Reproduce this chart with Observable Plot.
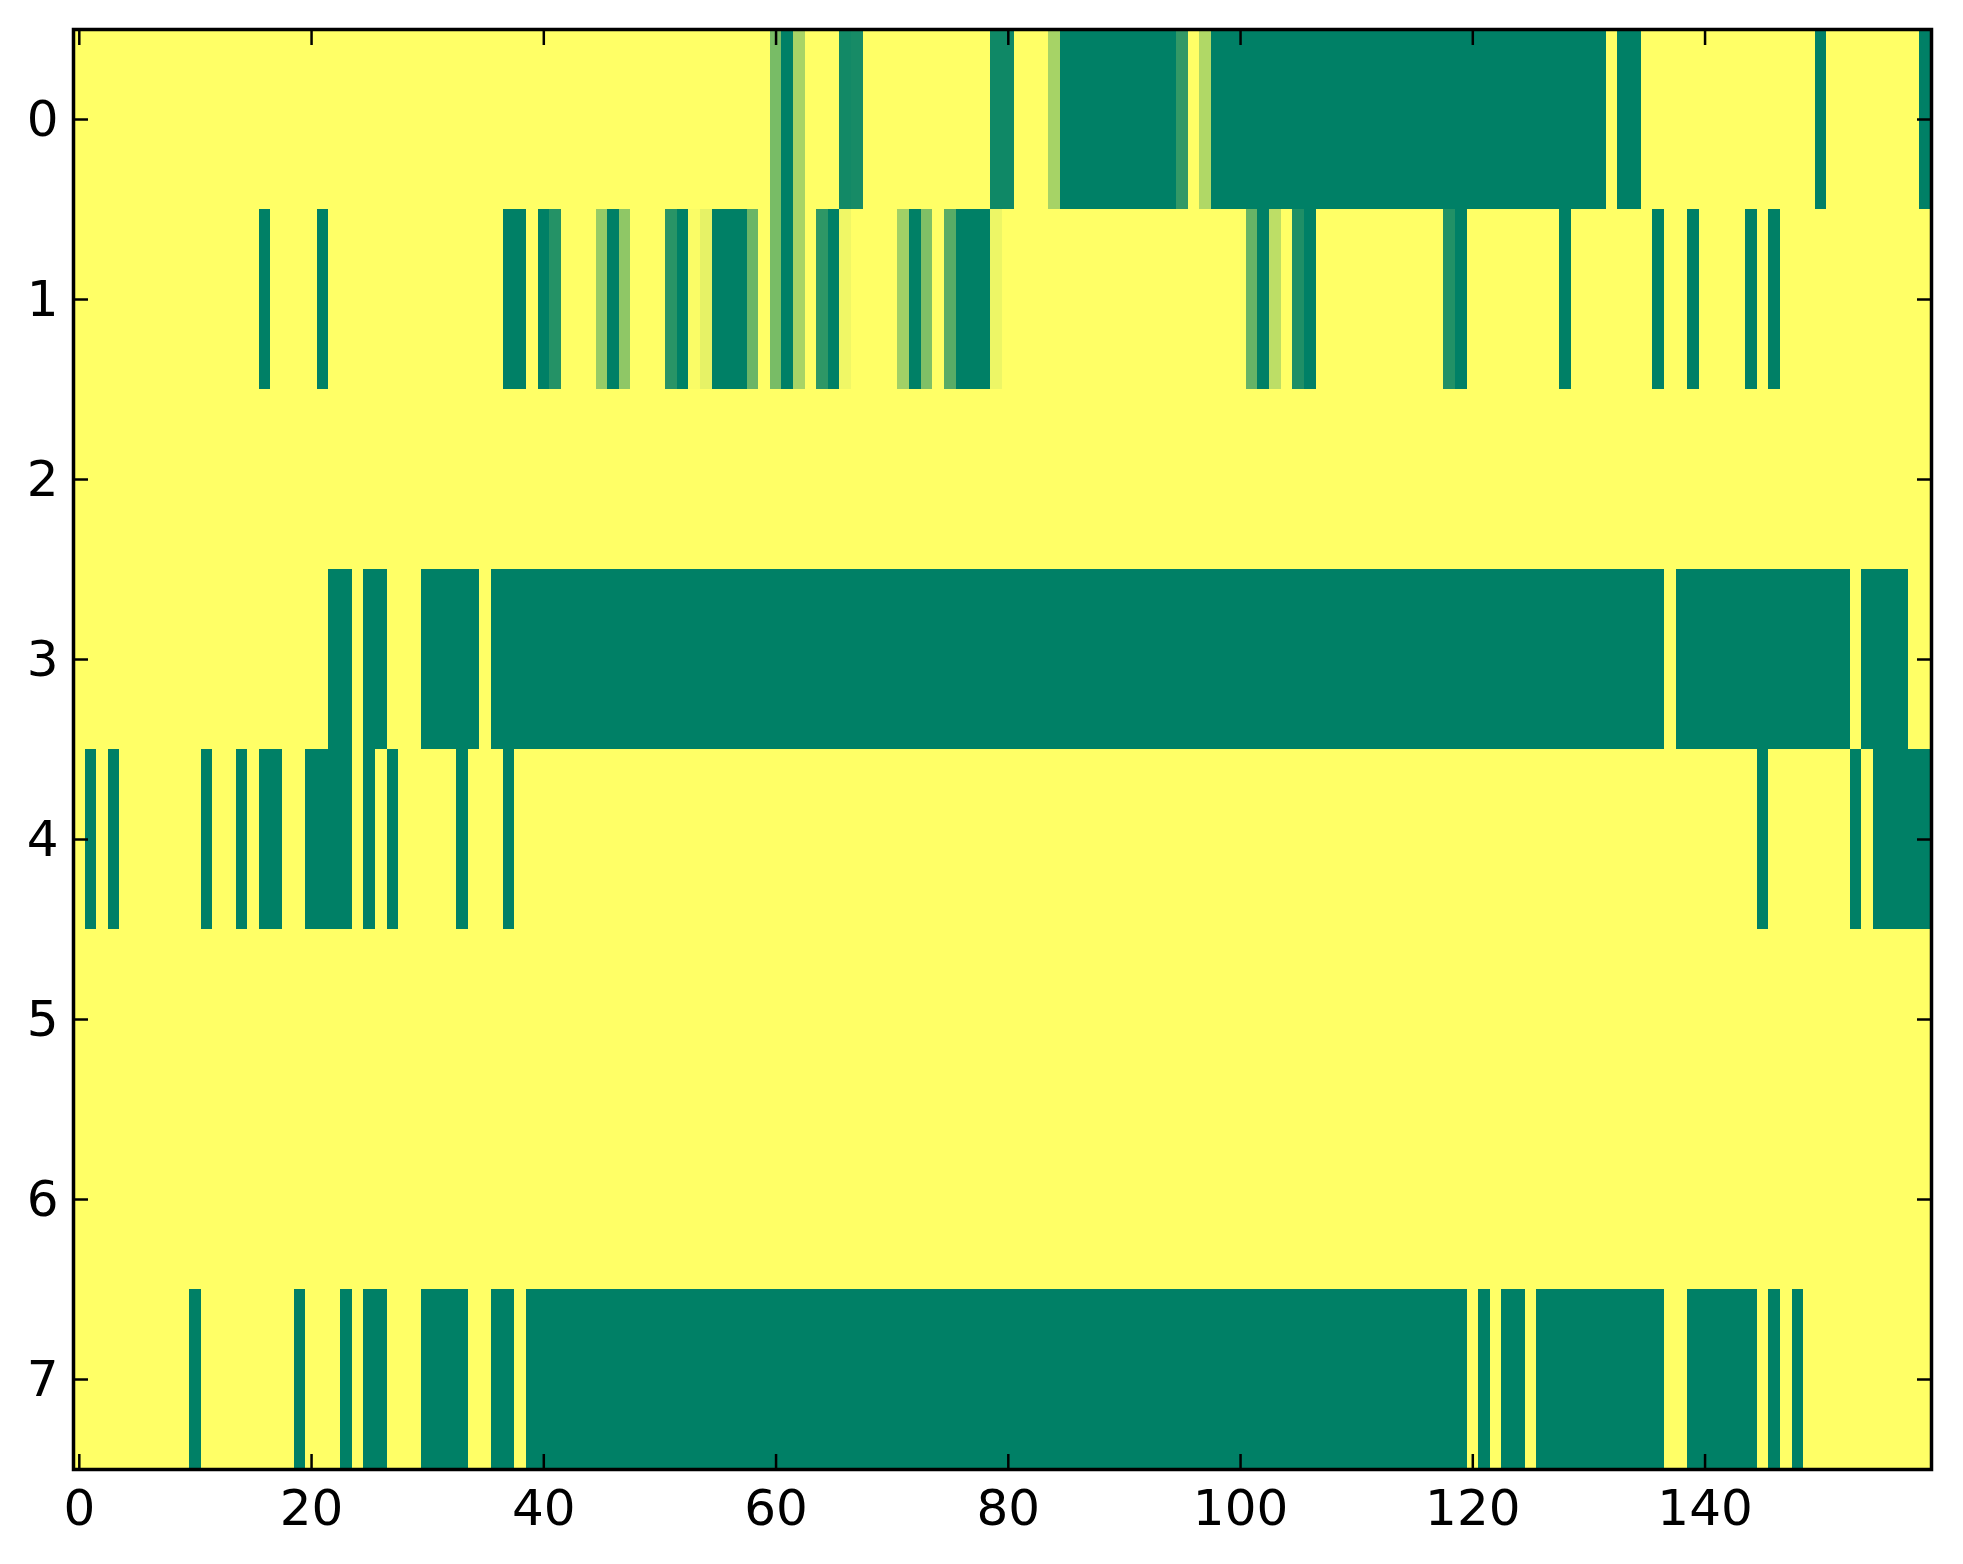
<!DOCTYPE html>
<html>
<head>
<meta charset="utf-8">
<script src="https://cdn.jsdelivr.net/npm/d3@7"></script>
<script src="https://cdn.jsdelivr.net/npm/@observablehq/plot@0.6"></script>
<style>
  html, body { margin: 0; padding: 0; background: #fff; }
  #chart svg { display: block; }
</style>
</head>
<body>
<div id="chart"></div>
<script>
// Values per row (columns 0..159), colormap "summer": 0 = green, 1 = yellow
const row0 = [
  1,1,1,1,1,1,1,1,1,1,1,1,1,1,1,1,1,1,1,1,
  1,1,1,1,1,1,1,1,1,1,1,1,1,1,1,1,1,1,1,1,
  1,1,1,1,1,1,1,1,1,1,1,1,1,1,1,1,1,1,1,1,
  0.47,0,0.66,1,1,1,0.07,0.09,1,1,1,1,1,1,1,1,1,1,1,0.06,
  0.06,1,1,1,0.65,0,0,0,0,0,0,0,0,0,0,0.2,1,0.69,0,0,
  0,0,0,0,0,0,0,0,0,0,0,0,0,0,0,0,0,0,0,0,
  0,0,0,0,0,0,0,0,0,0,0,0,1,0,0,1,1,1,1,1,
  1,1,1,1,1,1,1,1,1,1,0,1,1,1,1,1,1,1,1,0
];
const row1 = [
  1,1,1,1,1,1,1,1,1,1,1,1,1,1,1,1,0,1,1,1,
  1,0,1,1,1,1,1,1,1,1,1,1,1,1,1,1,1,0,0,1,
  0,0.14,1,1,1,0.59,0,0.56,1,1,1,0.16,0,0.98,0.9,0,0,0,0.42,1,
  0.47,0,0.66,1,0.18,0,0.94,1,1,1,1,0.63,0,0.5,1,0.35,0,0,0,0.93,
  1,1,1,1,1,1,1,1,1,1,1,1,1,1,1,1,1,1,1,1,
  1,0.4,0,0.74,1,0.12,0,1,1,1,1,1,1,1,1,1,1,1,0.13,0,
  1,1,1,1,1,1,1,1,0,1,1,1,1,1,1,1,0,1,1,0,
  1,1,1,1,0,1,0,1,1,1,1,1,1,1,1,1,1,1,1,1
];
const row2 = [
  1,1,1,1,1,1,1,1,1,1,1,1,1,1,1,1,1,1,1,1,
  1,1,1,1,1,1,1,1,1,1,1,1,1,1,1,1,1,1,1,1,
  1,1,1,1,1,1,1,1,1,1,1,1,1,1,1,1,1,1,1,1,
  1,1,1,1,1,1,1,1,1,1,1,1,1,1,1,1,1,1,1,1,
  1,1,1,1,1,1,1,1,1,1,1,1,1,1,1,1,1,1,1,1,
  1,1,1,1,1,1,1,1,1,1,1,1,1,1,1,1,1,1,1,1,
  1,1,1,1,1,1,1,1,1,1,1,1,1,1,1,1,1,1,1,1,
  1,1,1,1,1,1,1,1,1,1,1,1,1,1,1,1,1,1,1,1
];
const row3 = [
  1,1,1,1,1,1,1,1,1,1,1,1,1,1,1,1,1,1,1,1,
  1,1,0,0,1,0,0,1,1,1,0,0,0,0,0,1,0,0,0,0,
  0,0,0,0,0,0,0,0,0,0,0,0,0,0,0,0,0,0,0,0,
  0,0,0,0,0,0,0,0,0,0,0,0,0,0,0,0,0,0,0,0,
  0,0,0,0,0,0,0,0,0,0,0,0,0,0,0,0,0,0,0,0,
  0,0,0,0,0,0,0,0,0,0,0,0,0,0,0,0,0,0,0,0,
  0,0,0,0,0,0,0,0,0,0,0,0,0,0,0,0,0,1,0,0,
  0,0,0,0,0,0,0,0,0,0,0,0,0,1,0,0,0,0,1,1
];
const row4 = [
  1,0,1,0,1,1,1,1,1,1,1,0,1,1,0,1,0,0,1,1,
  0,0,0,0,1,0,1,0,1,1,1,1,1,0,1,1,1,0,1,1,
  1,1,1,1,1,1,1,1,1,1,1,1,1,1,1,1,1,1,1,1,
  1,1,1,1,1,1,1,1,1,1,1,1,1,1,1,1,1,1,1,1,
  1,1,1,1,1,1,1,1,1,1,1,1,1,1,1,1,1,1,1,1,
  1,1,1,1,1,1,1,1,1,1,1,1,1,1,1,1,1,1,1,1,
  1,1,1,1,1,1,1,1,1,1,1,1,1,1,1,1,1,1,1,1,
  1,1,1,1,1,0,1,1,1,1,1,1,1,0,1,0,0,0,0,0
];
const row5 = [
  1,1,1,1,1,1,1,1,1,1,1,1,1,1,1,1,1,1,1,1,
  1,1,1,1,1,1,1,1,1,1,1,1,1,1,1,1,1,1,1,1,
  1,1,1,1,1,1,1,1,1,1,1,1,1,1,1,1,1,1,1,1,
  1,1,1,1,1,1,1,1,1,1,1,1,1,1,1,1,1,1,1,1,
  1,1,1,1,1,1,1,1,1,1,1,1,1,1,1,1,1,1,1,1,
  1,1,1,1,1,1,1,1,1,1,1,1,1,1,1,1,1,1,1,1,
  1,1,1,1,1,1,1,1,1,1,1,1,1,1,1,1,1,1,1,1,
  1,1,1,1,1,1,1,1,1,1,1,1,1,1,1,1,1,1,1,1
];
const row6 = [
  1,1,1,1,1,1,1,1,1,1,1,1,1,1,1,1,1,1,1,1,
  1,1,1,1,1,1,1,1,1,1,1,1,1,1,1,1,1,1,1,1,
  1,1,1,1,1,1,1,1,1,1,1,1,1,1,1,1,1,1,1,1,
  1,1,1,1,1,1,1,1,1,1,1,1,1,1,1,1,1,1,1,1,
  1,1,1,1,1,1,1,1,1,1,1,1,1,1,1,1,1,1,1,1,
  1,1,1,1,1,1,1,1,1,1,1,1,1,1,1,1,1,1,1,1,
  1,1,1,1,1,1,1,1,1,1,1,1,1,1,1,1,1,1,1,1,
  1,1,1,1,1,1,1,1,1,1,1,1,1,1,1,1,1,1,1,1
];
const row7 = [
  1,1,1,1,1,1,1,1,1,1,0,1,1,1,1,1,1,1,1,0,
  1,1,1,0,1,0,0,1,1,1,0,0,0,0,1,1,0,0,1,0,
  0,0,0,0,0,0,0,0,0,0,0,0,0,0,0,0,0,0,0,0,
  0,0,0,0,0,0,0,0,0,0,0,0,0,0,0,0,0,0,0,0,
  0,0,0,0,0,0,0,0,0,0,0,0,0,0,0,0,0,0,0,0,
  0,0,0,0,0,0,0,0,0,0,0,0,0,0,0,0,0,0,0,0,
  1,0,1,0,0,1,0,0,0,0,0,0,0,0,0,0,0,1,1,0,
  0,0,0,0,0,1,0,1,0,1,1,1,1,1,1,1,1,1,1,1
];
const rows = [row0, row1, row2, row3, row4, row5, row6, row7];
const xTicks = [0, 20, 40, 60, 80, 100, 120, 140];
const yTicks = [0, 1, 2, 3, 4, 5, 6, 7];

const cells = [];
rows.forEach((vals, r) => vals.forEach((v, c) => cells.push({r, c, v})));

const font = "DejaVu Sans, sans-serif";
const tick = 15;

const chart = Plot.plot({
  width: 1963,
  height: 1564,
  marginLeft: 73,
  marginRight: 32,
  marginTop: 29,
  marginBottom: 95,
  style: {fontFamily: font, fontSize: "50px", color: "black", background: "white"},
  x: {type: "linear", domain: [-0.5, 159.5]},
  y: {type: "linear", domain: [-0.5, 7.5], reverse: true},
  color: {type: "linear", domain: [0, 1], range: ["#008066", "#ffff66"], interpolate: "rgb"},
  marks: [
    Plot.rect(cells, {
      x1: d => d.c - 0.5, x2: d => d.c + 0.5,
      y1: d => d.r - 0.5, y2: d => d.r + 0.5,
      fill: "v", shapeRendering: "crispEdges"
    }),
    // labels
    Plot.axisX({anchor: "bottom", ticks: xTicks, tickSize: 0, tickPadding: 20, label: null, tickFormat: d => String(d), fontSize: 50}),
    Plot.axisY({anchor: "left", ticks: yTicks, tickSize: 0, tickPadding: 15, label: null, tickFormat: d => String(d), fontSize: 50}),
    // inward ticks on all four sides
    Plot.axisX({anchor: "bottom", ticks: xTicks, tickSize: tick, text: null, label: null, dy: -tick, strokeWidth: 2.5}),
    Plot.axisX({anchor: "top", ticks: xTicks, tickSize: tick, text: null, label: null, dy: tick, strokeWidth: 2.5}),
    Plot.axisY({anchor: "left", ticks: yTicks, tickSize: tick, text: null, label: null, dx: tick, strokeWidth: 2.5}),
    Plot.axisY({anchor: "right", ticks: yTicks, tickSize: tick, text: null, label: null, dx: -tick, strokeWidth: 2.5}),
    Plot.frame({stroke: "black", strokeWidth: 3.5})
  ]
});
document.getElementById("chart").appendChild(chart);
</script>
</body>
</html>
